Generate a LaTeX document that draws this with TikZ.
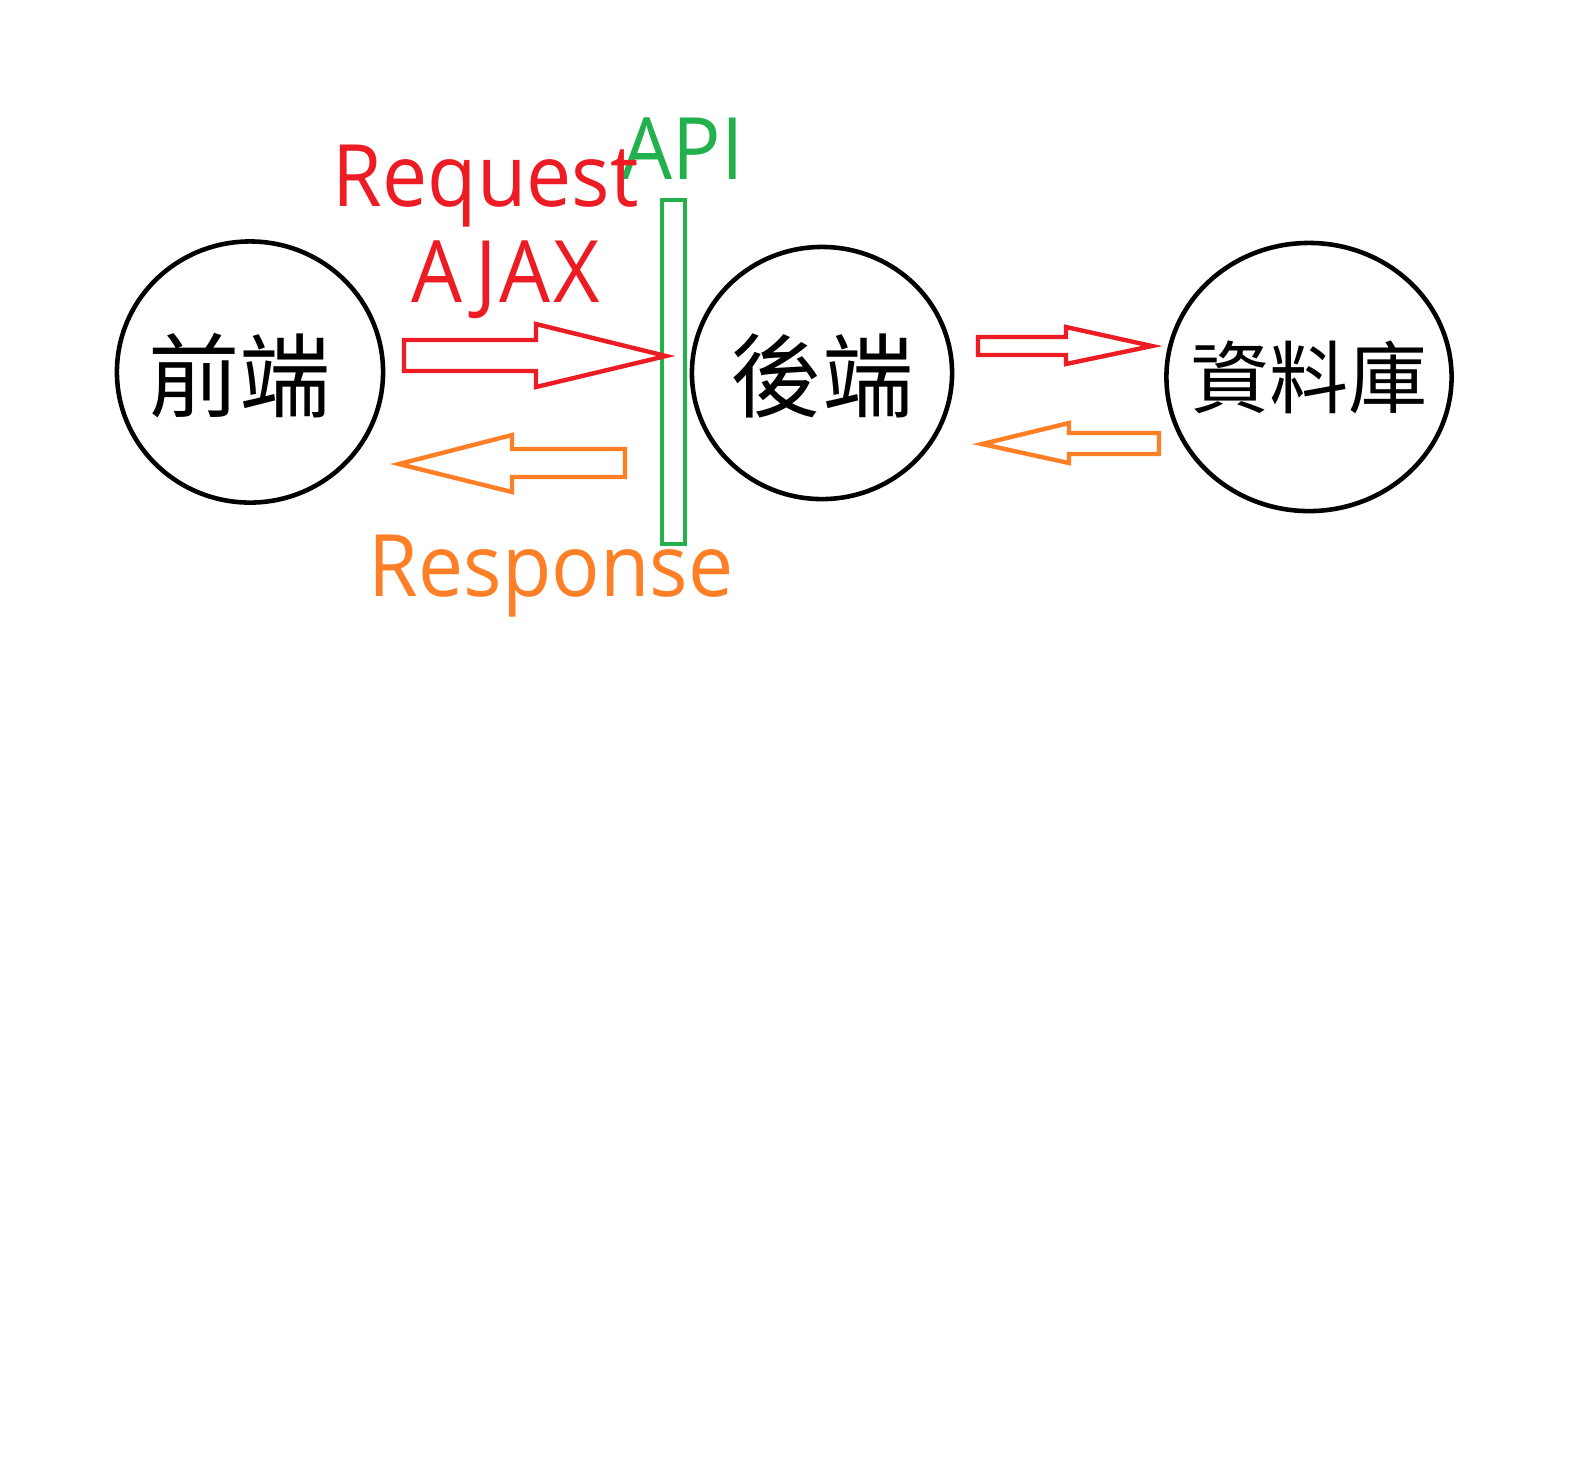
\documentclass[tikz,border=0pt]{standalone}
\usepackage{fontspec}
\usetikzlibrary{shapes.geometric}
\newfontfamily\uifont[FakeStretch=0.935]{Open Sans}
\newfontfamily\cjk{Noto Sans CJK TC}
\definecolor{pred}{HTML}{ED1C24}
\definecolor{porange}{HTML}{FF7F27}
\definecolor{pgreen}{HTML}{22B14C}
\tikzset{
  tier/.style = {ellipse, draw=black, line width=1.3pt, inner sep=0pt},
  tiername/.style = {inner sep=0pt, font=\cjk\fontsize{26}{26}\selectfont},
  reqarrow/.style = {draw=pred, line width=1.25pt, line join=miter},
  resarrow/.style = {draw=porange, line width=1.25pt, line join=miter},
  tag/.style = {inner sep=0pt, anchor=base west, font=\uifont\fontsize{24.5}{24.5}\selectfont},
}

\begin{document}
\begin{tikzpicture}[x=0.01cm, y=-0.01cm]
  \useasboundingbox [fill=white] (0,0) rectangle (1575,1456);

  % the three tiers
  \node [tier, minimum width=2.66cm, minimum height=2.61cm,
    label={[tiername, xshift=-0.1cm, yshift=-0.04cm]center:前端}] (front) at (250,372) {};
  \node [tier, minimum width=2.60cm, minimum height=2.52cm,
    label={[tiername, yshift=-0.03cm]center:後端}] (back) at (822,373) {};
  \node [tier, minimum width=2.85cm, minimum height=2.68cm,
    label={[tiername, font=\cjk\fontsize{22.5}{22.5}\selectfont]center:資料庫}] (db) at (1309,377) {};

  % API wall
  \draw [pgreen, line width=1.35pt] (662,200) rectangle (685,544);
  \node [tag, text=pgreen] (api) at (621,179) {API};

  % front <-> back
  \draw [reqarrow] (404,340) -- (536,340) -- (536,324) -- (666,356)
    -- (536,387) -- (536,371) -- (404,371) -- cycle;
  \draw [resarrow] (625,449) -- (512,449) -- (512,435) -- (399,464)
    -- (512,492) -- (512,477) -- (625,477) -- cycle;

  % back <-> db
  \draw [reqarrow] (978,337) -- (1066,337) -- (1066,327) -- (1152,346)
    -- (1066,364) -- (1066,355) -- (978,355) -- cycle;
  \draw [resarrow] (1159,433) -- (1069,433) -- (1069,423) -- (982,444)
    -- (1069,463) -- (1069,454) -- (1159,454) -- cycle;

  \node [tag, text=pred] (request) at (332,206) {Request};
  \node [tag, text=pred, font=\uifont\addfontfeature{LetterSpace=3}\fontsize{24.5}{24.5}\selectfont] (ajax) at (411,302) {AJAX};
  \node [tag, text=porange] (response) at (368,596) {Response};
\end{tikzpicture}
\end{document}
